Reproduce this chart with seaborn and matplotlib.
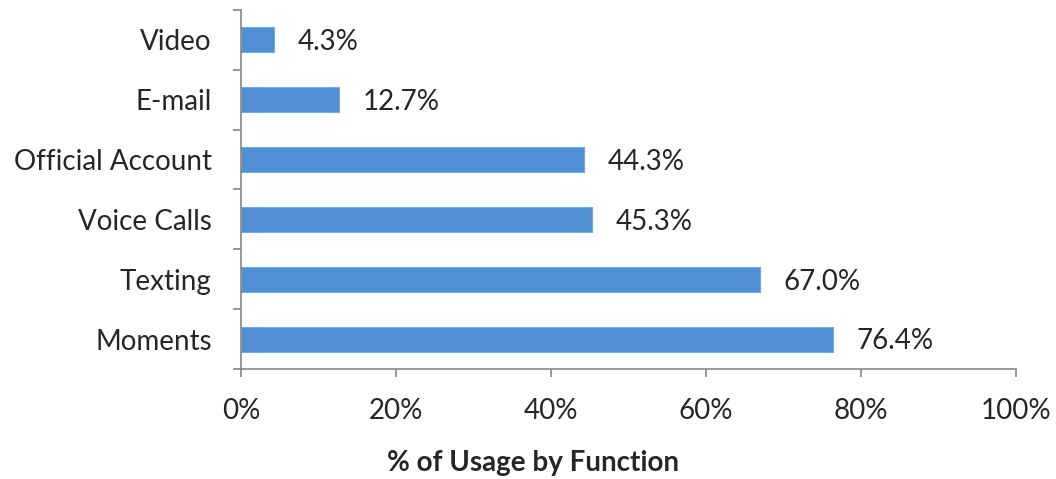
import matplotlib
matplotlib.use("Agg")
import matplotlib.pyplot as plt
import seaborn as sns
import pandas as pd
from matplotlib.ticker import FixedLocator

categories = ["Video", "E-mail", "Official Account", "Voice Calls", "Texting", "Moments"]
values = [4.3, 12.7, 44.3, 45.3, 67.0, 76.4]
xticks = [0, 20, 40, 60, 80, 100]
xtick_labels = ["0%", "20%", "40%", "60%", "80%", "100%"]

sns.set_theme(style="white")
plt.rcParams['font.family'] = ['Lato', 'DejaVu Sans']

df = pd.DataFrame({"cat": categories, "val": values})

fig = plt.figure(figsize=(10.56, 4.79), dpi=100)
ax = fig.add_axes([241/1056, 1-369/479, (1016-241)/1056, (369-10)/479])
sns.barplot(data=df, x="val", y="cat", orient="h", color="#5090D2", width=0.42,
            saturation=1, ax=ax, edgecolor="#76AADF", linewidth=0.8)

txtc = "#262626"
fs = 20
for i, v in enumerate(values):
    ax.text(v + 3.0, i + 0.04, f"{v:.1f}%", va="center", ha="left", fontsize=fs, color=txtc)

ax.set_xlim(0, 100)
ax.set_ylim(len(categories) - 0.5, -0.5)
ax.set_xticks(xticks)
ax.set_xticklabels(xtick_labels, fontsize=fs, color=txtc)
ax.set_yticks(range(len(categories)))
ax.set_yticklabels(categories, fontsize=fs, color=txtc)
ax.yaxis.set_minor_locator(FixedLocator([i - 0.5 for i in range(len(categories) + 1)]))
ax.tick_params(axis="y", which="major", length=0, pad=21)
ax.tick_params(axis="y", which="minor", length=6, color="#868686", width=1.2, left=True)
ax.tick_params(axis="x", which="major", length=6, color="#868686", width=1.2, bottom=True, pad=15)
ax.set_xlabel("")
ax.set_ylabel("")
for s in ["top", "right"]:
    ax.spines[s].set_visible(False)
for s in ["left", "bottom"]:
    ax.spines[s].set_color("#868686")
    ax.spines[s].set_linewidth(1.2)

fig.text(533/1056, 1-463/479, "% of Usage by Function", ha="center", va="center",
         fontsize=20, fontweight="bold", color=txtc)

fig.savefig("out.png", dpi=100)
